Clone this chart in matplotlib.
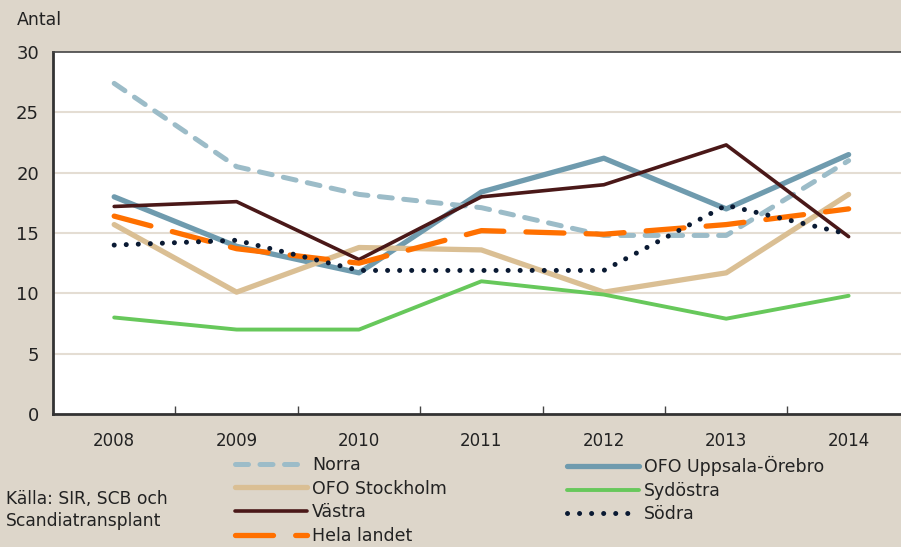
import matplotlib
matplotlib.use("Agg")
import matplotlib.pyplot as plt

plt.rcParams['font.family'] = ['DejaVu Sans']

# data
years = ["2008", "2009", "2010", "2011", "2012", "2013", "2014"]
norra = [27.4, 20.5, 18.2, 17.1, 14.8, 14.8, 21.0]
uppsala = [18.0, 13.9, 11.7, 18.4, 21.2, 17.0, 21.5]
stockholm = [15.7, 10.1, 13.8, 13.6, 10.1, 11.7, 18.2]
sydostra = [8.0, 7.0, 7.0, 11.0, 9.9, 7.9, 9.8]
vastra = [17.2, 17.6, 12.8, 18.0, 19.0, 22.3, 14.7]
sodra = [14.0, 14.4, 11.9, 11.9, 11.9, 17.3, 14.9]
hela = [16.4, 13.7, 12.5, 15.2, 14.9, 15.7, 17.0]

bg = '#DDD6CA'
fig = plt.figure(figsize=(9.01, 5.47), dpi=100, facecolor=bg)
ax = fig.add_axes([0.0588, 0.2431, 0.951, 0.6618])
ax.set_facecolor('white')

x = list(range(len(years)))

ax.plot(x, uppsala, color='#6F9BAE', lw=3.8, solid_capstyle='round', label='OFO Uppsala-Örebro')
ax.plot(x, stockholm, color='#DABF94', lw=3.8, solid_capstyle='round', label='OFO Stockholm')
ax.plot(x, sydostra, color='#67C85B', lw=2.8, solid_capstyle='round', label='Sydöstra')
ax.plot(x, norra, color='#9CBCC8', lw=3.6, dash_capstyle='round', dashes=(2.6, 2.3), label='Norra')
ax.plot(x, vastra, color='#4A1818', lw=2.6, solid_capstyle='round', label='Västra')
ax.plot(x, hela, color='#FF7000', lw=3.8, dash_capstyle='round', dashes=(7.2, 4.2), label='Hela landet')
ax.plot(x, sodra, color='#0A1A33', lw=3.6, dash_capstyle='round', dashes=(0.01, 2.4), label='Södra')

ax.set_xlim(-0.5, 6.5)
ax.set_ylim(0, 30)
ax.set_yticks([0, 5, 10, 15, 20, 25, 30])
ax.set_xticks(x)
ax.set_xticklabels(years)
ax.set_xticks([i + 0.5 for i in range(6)], minor=True)
ax.tick_params(axis='x', which='major', length=0, pad=13, labelsize=12, colors='#222222')
ax.tick_params(axis='x', which='minor', direction='in', length=6, width=1, color='#444444')
ax.tick_params(axis='y', length=0, pad=10, labelsize=13, colors='#222222')
for v in [5, 10, 15, 20, 25]:
    ax.axhline(v, color='#E4DDD3', lw=1.5, zorder=0)

for s in ['left', 'bottom']:
    ax.spines[s].set_color('#333333')
    ax.spines[s].set_linewidth(2)
ax.spines['top'].set_color('#444444')
ax.spines['top'].set_linewidth(1.2)
ax.spines['right'].set_visible(False)

fig.text(17 / 901, 1 - 20 / 547, 'Antal', fontsize=12.5, va='center', ha='left', color='#222222')
fig.text(6 / 901, 1 - 510 / 547, 'Källa: SIR, SCB och\nScandiatransplant', fontsize=12.3,
         va='center', ha='left', color='#222222', linespacing=1.25)

h = {l.get_label(): l for l in ax.get_lines()}
common = dict(loc='upper left', frameon=False, fontsize=12.5, handlelength=4.15,
              handletextpad=0.3, labelspacing=0.32, borderpad=0, borderaxespad=0)
leg1 = fig.legend([h['Norra'], h['OFO Stockholm'], h['Västra'], h['Hela landet']],
                  ['Norra', 'OFO Stockholm', 'Västra', 'Hela landet'],
                  bbox_to_anchor=(235 / 901, 1 - 456 / 547), **common)
leg2 = fig.legend([h['OFO Uppsala-Örebro'], h['Sydöstra'], h['Södra']],
                  ['OFO Uppsala-Örebro', 'Sydöstra', 'Södra'],
                  bbox_to_anchor=(567 / 901, 1 - 456 / 547), **common)
for t in leg1.get_texts() + leg2.get_texts():
    t.set_color('#222222')

fig.savefig('out.png', dpi=100, facecolor=bg)
